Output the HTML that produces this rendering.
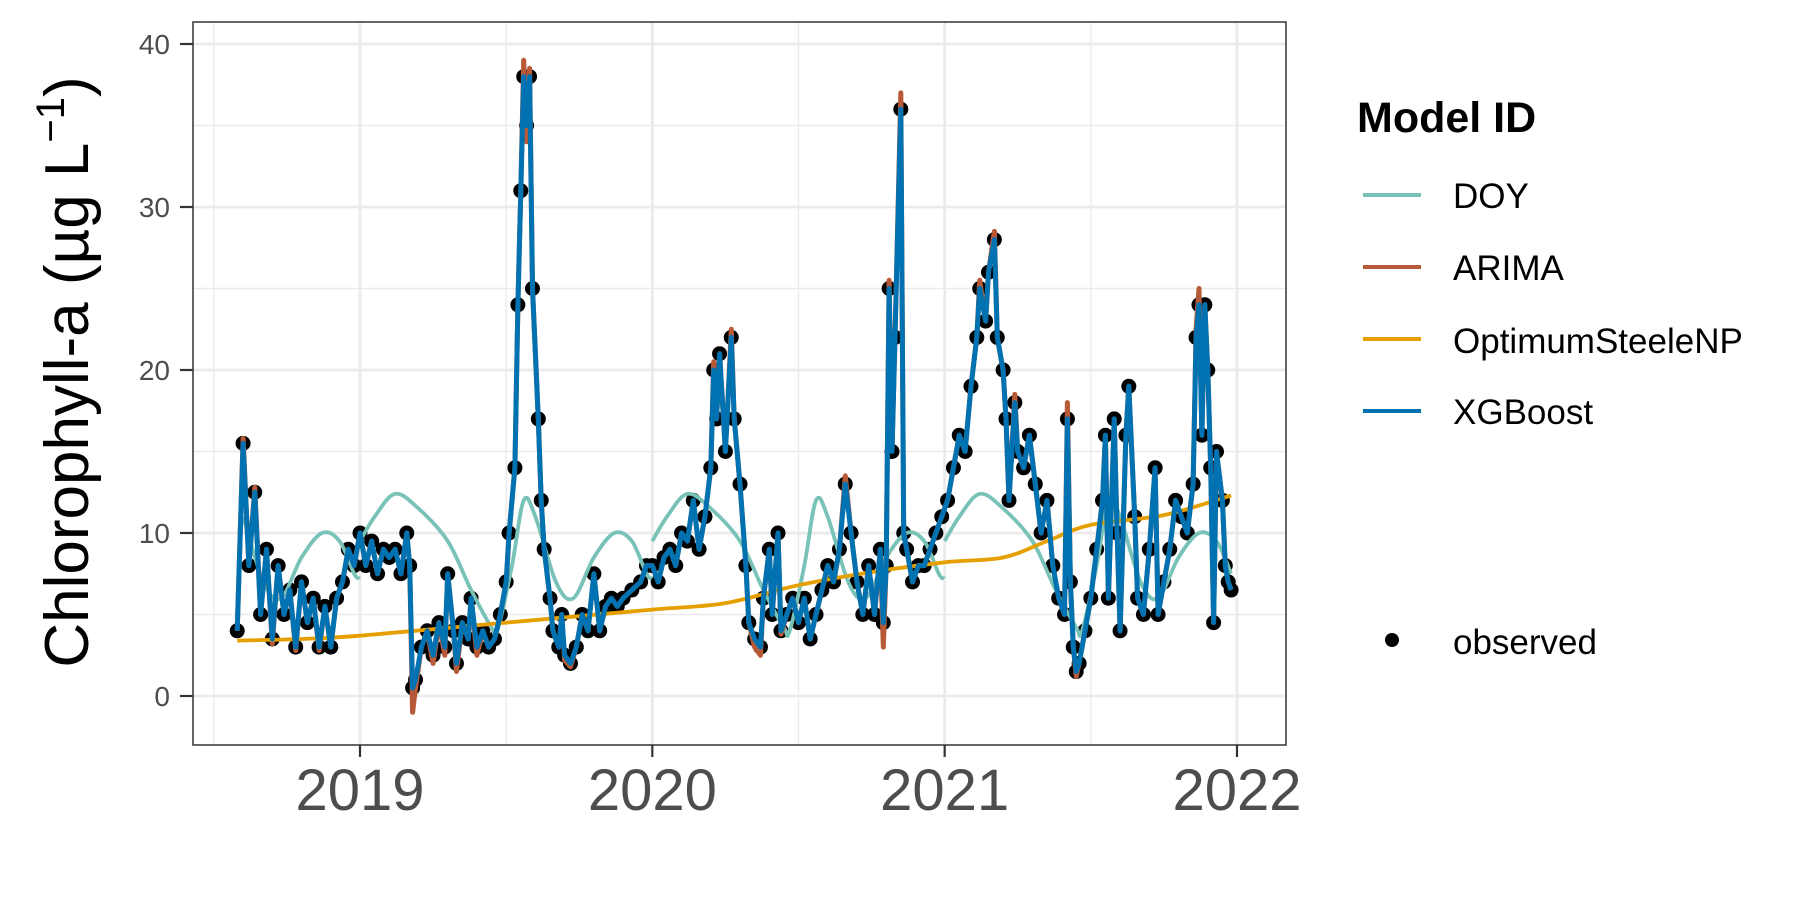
<!DOCTYPE html>
<html><head><meta charset="utf-8"><title>Chlorophyll-a forecasts</title>
<style>html,body{margin:0;padding:0;background:#fff}svg{display:block;font-family:"Liberation Sans",Arial,sans-serif}</style>
</head><body>
<svg id="chart" width="1800" height="900" viewBox="0 0 1800 900">
<rect x="0" y="0" width="1800" height="900" fill="#fff"/>
<g id="grid"></g>
<g id="marks"></g>
<rect x="193" y="22" width="1093" height="723" fill="none" stroke="#333" stroke-width="1.5"/>
<g id="axes"></g>
<text transform="translate(88,372) rotate(-90)" text-anchor="middle" font-size="62" fill="#000">Chlorophyll-a (µg L<tspan font-size="40" dy="-24">−1</tspan><tspan dy="24">)</tspan></text>
<g>
<text x="1357" y="132" font-size="43" font-weight="bold" fill="#000">Model ID</text>
<g><line x1="1363" x2="1421" y1="195" y2="195" stroke="#78C2B8" stroke-width="4"/><text x="1453" y="208" font-size="35">DOY</text></g>
<g><line x1="1363" x2="1421" y1="267" y2="267" stroke="#B85A37" stroke-width="4"/><text x="1453" y="280" font-size="35">ARIMA</text></g>
<g><line x1="1363" x2="1421" y1="339" y2="339" stroke="#E69F00" stroke-width="4"/><text x="1453" y="353" font-size="35">OptimumSteeleNP</text></g>
<g><line x1="1363" x2="1421" y1="411" y2="411" stroke="#0072B2" stroke-width="4"/><text x="1453" y="424" font-size="35">XGBoost</text></g>
<g><circle cx="1392" cy="640" r="7" fill="#000"/><text x="1453" y="654" font-size="35">observed</text></g>
</g>
</svg>
<script>
const yTicks = [0, 10, 20, 30, 40];
const yMinor = [5, 15, 25, 35];
const xTicks = [2019, 2020, 2021, 2022];
const xMinor = [2018.5, 2019.5, 2020.5, 2021.5];
const obsDates = [
2018.58,2018.60,2018.62,2018.64,2018.66,2018.68,2018.70,2018.72,2018.74,2018.76,2018.78,2018.80,2018.82,2018.84,2018.86,2018.88,2018.90,2018.92,2018.94,2018.96,2018.98,
2019.00,2019.02,2019.04,2019.06,2019.08,2019.10,2019.12,2019.14,2019.16,2019.17,
2019.18,2019.19,2019.21,2019.23,2019.25,2019.27,2019.29,2019.30,2019.32,2019.33,2019.35,2019.37,2019.38,2019.40,2019.42,2019.44,2019.46,2019.48,2019.50,
2019.51,2019.53,2019.54,2019.55,2019.56,2019.57,2019.58,2019.59,2019.61,2019.62,2019.63,2019.65,2019.66,2019.68,2019.69,2019.70,2019.72,2019.74,2019.76,2019.78,2019.80,2019.82,2019.84,2019.86,2019.88,2019.90,2019.93,2019.96,2019.98,
2020.00,2020.02,2020.04,2020.06,2020.08,2020.10,2020.12,2020.14,2020.16,2020.18,2020.20,2020.21,2020.22,2020.23,2020.25,2020.27,2020.28,2020.30,2020.32,2020.33,2020.35,2020.37,2020.38,2020.40,2020.41,2020.43,2020.44,2020.46,2020.48,2020.50,2020.52,2020.54,2020.56,2020.58,2020.60,2020.62,2020.64,2020.66,2020.68,2020.70,2020.72,2020.74,2020.76,2020.78,2020.79,2020.80,2020.81,2020.82,2020.83,2020.85,2020.86,2020.87,2020.89,2020.91,2020.93,2020.95,2020.97,2020.99,
2021.01,2021.03,2021.05,2021.07,2021.09,2021.11,2021.12,2021.14,2021.15,2021.17,2021.18,2021.20,2021.21,2021.22,2021.24,2021.25,2021.27,2021.29,2021.31,2021.33,2021.35,2021.37,2021.39,2021.41,2021.42,2021.43,2021.44,2021.45,2021.46,2021.48,2021.50,2021.52,2021.54,2021.55,2021.56,2021.58,2021.59,2021.60,2021.62,2021.63,2021.65,2021.66,2021.68,2021.70,2021.72,2021.73,2021.75,2021.77,2021.79,2021.81,2021.83,2021.85,2021.86,2021.87,2021.88,2021.89,2021.90,2021.91,2021.92,2021.93,2021.95,2021.96,2021.97,2021.98];
const obsValues = [
4,15.5,8,12.5,5,9,3.5,8,5,6.5,3,7,4.5,6,3,5.5,3,6,7,9,8,
10,8,9.5,7.5,9,8.5,9,7.5,10,8,
0.5,1,3,4,2.5,4.5,3,7.5,4,2,4.5,3.5,6,3,4,3,3.5,5,7,
10,14,24,31,38,35,38,25,17,12,9,6,4,3,5,2.5,2,3,5,4,7.5,4,5.5,6,5.5,6,6.5,7,8,
8,7,8.5,9,8,10,9.5,12,9,11,14,20,17,21,15,22,17,13,8,4.5,3.5,3,6,9,5,10,4,5,6,4.5,6,3.5,5,6.5,8,7,9,13,10,7,5,8,5,9,4.5,8,25,15,22,36,10,9,7,8,8,9,10,11,
12,14,16,15,19,22,25,23,26,28,22,20,17,12,18,15,14,16,13,10,12,8,6,5,17,7,3,1.5,2,4,6,9,12,16,6,17,10,4,16,19,11,6,5,9,14,5,7,9,12,11,10,13,22,24,16,24,20,14,4.5,15,12,8,7,6.5];
const xgbValues = [
4,15.5,8,12.5,5,9,3.5,8,5,6.5,3,7,4.5,6,3,5.5,3,6,7,9,8,
10,8,9.5,7.5,9,8.5,9,7.5,10,8,
0.5,1,3,4,2.5,4.5,3,7.5,4,2,4.5,3.5,6,3,4,3,3.5,5,7,
10,14,24,31,38,35,38,25,17,12,9,6,4,3,5,2.5,2,3,5,4,7.5,4,5.5,6,5.5,6,6.5,7,8,
8,7,8.5,9,8,10,9.5,12,9,11,14,20,17,21,15,22,17,13,8,4.5,3.5,3,6,9,5,10,4,5,6,4.5,6,3.5,5,6.5,8,7,9,13,10,7,5,8,5,9,4.5,8,25,15,22,36,10,9,7,8,8,9,10,11,
12,14,16,15,19,22,25,23,26,28,22,20,17,12,18,15,14,16,13,10,12,8,6,5,17,7,3,1.5,2,4,6,9,12,16,6,17,10,4,16,19,11,6,5,9,14,5,7,9,12,11,10,13,22,24,16,24,20,14,4.5,15,12,8,7,6.5];
const arimaValues = [
4,15.8,8,12.8,5,9,3.2,8,5,6.5,2.8,7,4.5,6,2.8,5.5,3,6,7,9,8,
10,8,9.5,7.5,9,8.5,9,7.5,10,8,
-1,0.5,3,4,2,4.5,2.5,7.5,4,1.5,4.5,3.5,6,2.5,4,3,3.5,5,7,
10,14,24,31,39,34,38.5,25,17,12,9,6,4,3,5,2.2,1.8,3,5,4,7.5,4,5.5,6,5.5,6,6.5,7,8,
8,7,8.5,9,8,10,9.5,12,9,11,14,20.5,17,21,15,22.5,17,13,8,4.5,3,2.5,6,9,5,10,3.8,5,6,4.5,6,3.5,5,6.5,8,7,9,13.5,10,7,5,8,5,9,3,8,25.5,15,22,37,10,9,7,8,8,9,10,11,
12,14,16,15,19,22,25.5,23,26,28.5,22,20,17,12,18.5,15,14,16,13,10,12,8,6,5,18,7,3,1.2,2,4,6,9,12,16,6,17,10,4,16,19,11,6,5,9,14,5,7,9,12,11,10,13,22.5,25,16,24,20,14,4.5,15,12,8,7,6.5];
const doyFrac = [0, 0.05, 0.12, 0.2, 0.3, 0.38, 0.45, 0.47, 0.52, 0.56, 0.6, 0.67, 0.73, 0.8, 0.87, 0.93, 0.98, 0.999];
const doyValues = [9.5, 11, 12.4, 11.5, 9.5, 6.5, 4.2, 4.0, 8, 12, 11, 7, 6, 8.5, 10, 9.5, 7.5, 7.2];
const doyYears = [2018, 2019, 2020, 2021];
const optDates = [2018.58, 2018.8, 2019.0, 2019.5, 2020.0, 2020.25, 2020.5, 2020.75, 2021.0, 2021.2, 2021.35, 2021.5, 2021.75, 2021.98];
const optValues = [3.4, 3.5, 3.7, 4.5, 5.3, 5.7, 6.8, 7.6, 8.2, 8.5, 9.5, 10.5, 11.1, 12.3];

const NS = 'http://www.w3.org/2000/svg';
const PL = 193, PR = 1286, PT = 22, PB = 745;
function xs(t) { return 360 + (t - 2019) * 292.33; }
function ys(v) { return 696 - v * 16.3; }
function mk(tag, attrs, parent) {
  const e = document.createElementNS(NS, tag);
  for (const k in attrs) e.setAttribute(k, attrs[k]);
  parent.appendChild(e);
  return e;
}
function smoothPath(pts) {
  if (pts.length < 2) return '';
  let d = 'M' + pts[0][0].toFixed(1) + ',' + pts[0][1].toFixed(1);
  for (let i = 0; i < pts.length - 1; i++) {
    const p0 = pts[Math.max(0, i - 1)], p1 = pts[i], p2 = pts[i + 1], p3 = pts[Math.min(pts.length - 1, i + 2)];
    const c1x = p1[0] + (p2[0] - p0[0]) / 6, c1y = p1[1] + (p2[1] - p0[1]) / 6;
    const c2x = p2[0] - (p3[0] - p1[0]) / 6, c2y = p2[1] - (p3[1] - p1[1]) / 6;
    d += ' C' + c1x.toFixed(1) + ',' + c1y.toFixed(1) + ' ' + c2x.toFixed(1) + ',' + c2y.toFixed(1) + ' ' + p2[0].toFixed(1) + ',' + p2[1].toFixed(1);
  }
  return d;
}
const grid = document.getElementById('grid');
const marks = document.getElementById('marks');
const axes = document.getElementById('axes');

yMinor.forEach(v => {
  const l = mk('line', {x1: PL, x2: PR, y1: ys(v), y2: ys(v), stroke: '#EBEBEB', 'stroke-width': 1.4}, grid);
  
  
});
xMinor.forEach(t => {
  const l = mk('line', {x1: xs(t), x2: xs(t), y1: PT, y2: PB, stroke: '#EBEBEB', 'stroke-width': 1.4}, grid);
  
  
});
yTicks.forEach(v => {
  const l = mk('line', {x1: PL, x2: PR, y1: ys(v), y2: ys(v), stroke: '#EBEBEB', 'stroke-width': 2.8}, grid);
  
  
  const tk = mk('line', {x1: 180, x2: PL, y1: ys(v), y2: ys(v), stroke: '#333', 'stroke-width': 2.2}, axes);
  
  
  const tx = mk('text', {x: 170, y: ys(v) + 10, 'text-anchor': 'end', 'font-size': 28, fill: '#4D4D4D'}, axes);
  tx.textContent = String(v);
  
  
});
xTicks.forEach(t => {
  const l = mk('line', {x1: xs(t), x2: xs(t), y1: PT, y2: PB, stroke: '#EBEBEB', 'stroke-width': 2.8}, grid);
  
  
  const tk = mk('line', {x1: xs(t), x2: xs(t), y1: PB, y2: PB + 12, stroke: '#333', 'stroke-width': 2.2}, axes);
  
  
  const tx = mk('text', {x: xs(t), y: 810, 'text-anchor': 'middle', 'font-size': 58, fill: '#4D4D4D'}, axes);
  tx.textContent = String(t);
  
  
});

const pg = mk('g', {}, marks);


obsDates.forEach((t, i) => {
  const c = mk('circle', {cx: xs(t), cy: ys(obsValues[i]), r: 7.5, fill: '#000'}, pg);
  
  
});

const dg = mk('g', {}, marks);


doyYears.forEach(yr => {
  const pts = [];
  doyFrac.forEach((f, i) => {
    const t = yr + f;
    if (t >= 2018.58 && t <= 2021.99) pts.push([xs(t), ys(doyValues[i])]);
  });
  const p = mk('path', {d: smoothPath(pts), fill: 'none', stroke: '#78C2B8', 'stroke-width': 3.8, 'stroke-linejoin': 'round'}, dg);
  
  
});

function polyline(dates, vals, color, w, name) {
  const pts = dates.map((t, i) => xs(t).toFixed(1) + ',' + ys(vals[i]).toFixed(1)).join(' ');
  const p = mk('polyline', {points: pts, fill: 'none', stroke: color, 'stroke-width': w, 'stroke-linejoin': 'round'}, marks);
  
  
  return p;
}
polyline(obsDates, arimaValues, '#B85A37', 5, 'arima-line');
const op = mk('path', {d: smoothPath(optDates.map((t, i) => [xs(t), ys(optValues[i])])), fill: 'none', stroke: '#E69F00', 'stroke-width': 3.8}, marks);


polyline(obsDates, xgbValues, '#0072B2', 5, 'xgboost-line');
</script>
</body></html>
